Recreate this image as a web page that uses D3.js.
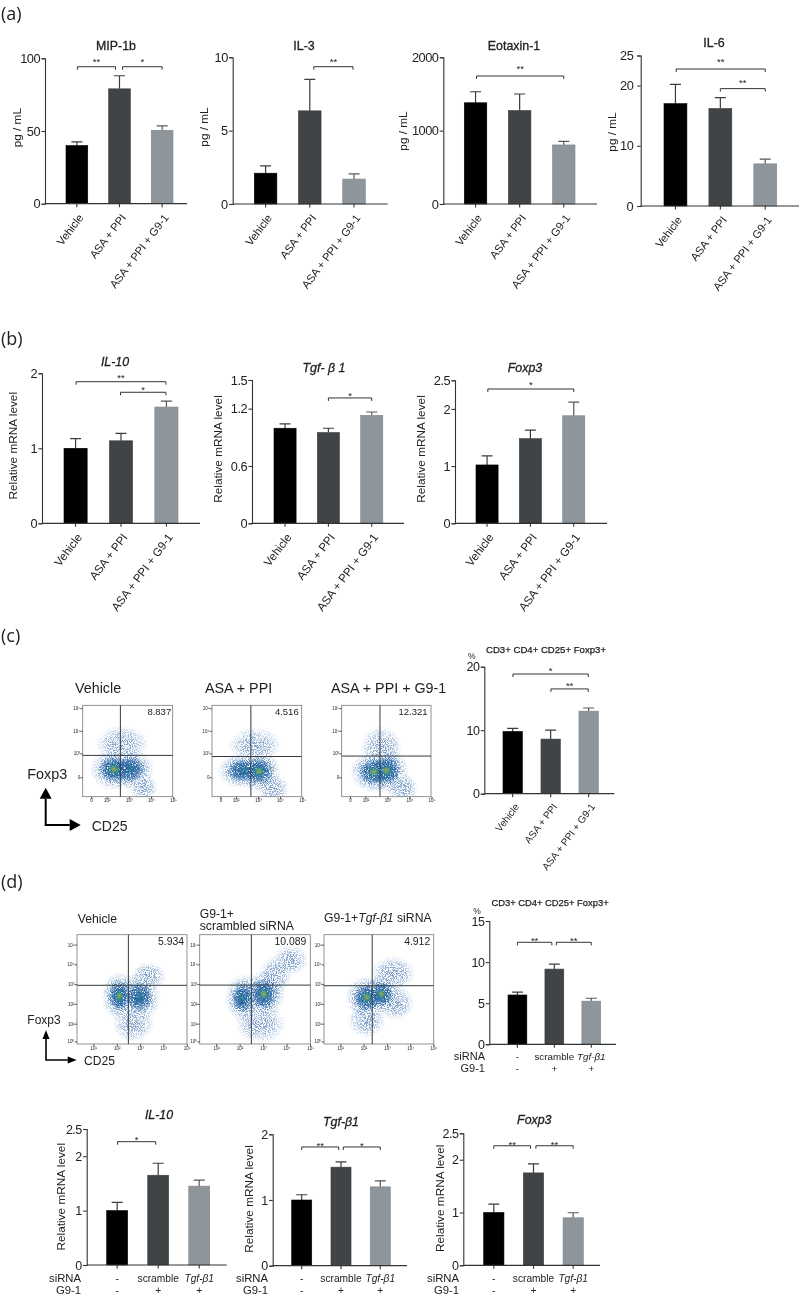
<!DOCTYPE html>
<html><head><meta charset="utf-8">
<script src="https://cdn.jsdelivr.net/npm/d3@7/dist/d3.min.js"></script>
<style>
html,body{margin:0;padding:0;background:#fff}
svg{display:block;filter:blur(0.35px)}
text{font-family:"Liberation Sans",Arial,sans-serif;fill:#222}
</style></head><body>
<script>
// ---------- data ----------
const drugCategories = ["Vehicle","ASA + PPI","ASA + PPI + G9-1"];
const sirnaRow = ["-","scramble","Tgf-β1"];
const g91Row = ["-","+","+"];

const mip1bMeans=[40,79,50.5],   mip1bTops=[42.5,88,53.5];
const il3Means=[2.1,6.35,1.7],   il3Tops=[2.6,8.5,2.05];
const eotaxinMeans=[1380,1275,805], eotaxinTops=[1530,1500,855];
const il6Means=[17,16.2,7],      il6Tops=[20.2,18,7.8];

const il10Means=[1,1.1,1.55],    il10Tops=[1.13,1.2,1.63];
const tgfMeans=[0.995,0.95,1.13],tgfTops=[1.04,0.995,1.165];
const foxp3Means=[1.02,1.48,1.88],foxp3Tops=[1.18,1.63,2.12];

const tregCMeans=[9.8,8.6,13],   tregCTops=[10.3,10,13.5];
const tregDMeans=[6,9.15,5.25],  tregDTops=[6.35,9.75,5.6];

const siIl10Means=[1,1.65,1.45], siIl10Tops=[1.15,1.87,1.56];
const siTgfMeans=[1,1.5,1.2],    siTgfTops=[1.08,1.58,1.29];
const siFoxMeans=[1,1.75,0.9],   siFoxTops=[1.16,1.92,0.995];

// flow-plot densities: [CD25 decade, Foxp3 decade, x spread, y spread, heat 0-2]
const flowCVehicle=[[2.68,3.44,.95,.62,0],[3.66,1.5,.5,.5,0],[3.06,2.3,.85,.72,1],[2.33,2.29,.85,.72,2]];
const flowCAsa=[[2.86,3.37,.95,.62,0],[3.69,1.44,.55,.55,0],[2.30,2.24,.9,.62,1],[3.05,2.21,.78,.72,2]];
const flowCG91=[[2.72,3.29,.75,.72,0],[3.7,1.44,.55,.55,0],[2.38,2.18,.85,.72,2],[2.95,2.24,.8,.78,2]];
const flowDVehicle=[[3.36,3.41,.6,.55,0],[2.71,1.01,.7,.75,0],[2.97,2.36,.72,.95,1],[2.11,2.41,.6,.95,2]];
const flowDScramble=[[4.17,4.22,.6,.6,0],[2.89,1.01,.85,.8,0],[3.53,3.46,.55,.75,0],[2.14,2.31,.6,.95,1],[3.03,2.5,.72,.95,2]];
const flowDTgf=[[3.27,3.54,.75,.7,0],[3.41,2.03,.6,.7,0],[2.13,1.18,.65,.7,0],[2.13,2.33,.72,.85,2],[2.77,2.5,.65,.78,2]];

// ---------- layout ----------
const W=800,H=1295,barColors=["#000000","#404446","#8e959b"],edgeColors=["#000","#3a3e40","#7f868c"];
const svg=d3.select("body").append("svg").attr("width",W).attr("height",H).attr("viewBox",`0 0 ${W} ${H}`);
svg.append("rect").attr("width",W).attr("height",H).attr("fill","#fff");

const defs=svg.append("defs");
function speckle(id,seed,gain,bias){
  const sp=defs.append("filter").attr("id",id).attr("x",0).attr("y",0).attr("width",1).attr("height",1)
    .attr("color-interpolation-filters","sRGB");
  sp.append("feTurbulence").attr("type","fractalNoise").attr("baseFrequency",0.95).attr("numOctaves",2).attr("seed",seed).attr("result","n");
  sp.append("feColorMatrix").attr("in","n").attr("type","matrix").attr("values",`0 0 0 0 0 0 0 0 0 0 0 0 0 0 0 ${gain} 0 0 0 ${bias}`).attr("result","m");
  sp.append("feComposite").attr("in","SourceGraphic").attr("in2","m").attr("operator","in");
}
speckle("speckle",4,6,-2.6);
speckle("speckle2",9,6,-2.0);
const heatStops=[
 [[0,"#3f6fb0",.75],[.55,"#4f7fbd",.55],[1,"#7da2cf",0]],
 [[0,"#27619f",.95],[.55,"#3a74b4",.7],[1,"#7da2cf",0]],
 [[0,"#1f5f9c",1],[.55,"#3a74b4",.75],[1,"#7da2cf",0]]];
heatStops.forEach((s,i)=>{
  const g=defs.append("radialGradient").attr("id","heat"+i);
  s.forEach(d=>g.append("stop").attr("offset",d[0]).attr("stop-color",d[1]).attr("stop-opacity",d[2]));
});
const dense=defs.append("radialGradient").attr("id","dense");
[[0,"#1e5f96",1],[.6,"#1f5f9f",.75],[1,"#2a68a8",0]].forEach(d=>dense.append("stop").attr("offset",d[0]).attr("stop-color",d[1]).attr("stop-opacity",d[2]));
const core=defs.append("radialGradient").attr("id","core");
[[0,"#a8a43f",.95],[.3,"#6aa265",.9],[.65,"#2d8f8c",.55],[1,"#2d8098",0]].forEach(d=>core.append("stop").attr("offset",d[0]).attr("stop-color",d[1]).attr("stop-opacity",d[2]));
const warm=defs.append("radialGradient").attr("id","warm");
[[0,"#2a8a90",.75],[.6,"#25789a",.4],[1,"#2d7098",0]].forEach(d=>warm.append("stop").attr("offset",d[0]).attr("stop-color",d[1]).attr("stop-opacity",d[2]));

function barPanel(p){
  const g=svg.append("g");
  const x=d3.scaleBand().domain(d3.range(3)).range([p.barL,p.barR]).paddingInner(p.inner||0.49).paddingOuter(0);
  const y=d3.scaleLinear().domain([0,p.max]).range([p.y0,p.yTop]);
  const c=i=>x(i)+x.bandwidth()/2;
  // error bars
  g.selectAll(".eb").data(p.means).join("path")
    .attr("d",(m,i)=>`M${c(i)},${y(m)}V${y(p.tops[i])}M${c(i)-5.5},${y(p.tops[i])}H${c(i)+5.5}`)
    .attr("fill","none").attr("stroke",(m,i)=>i==2?"#55595c":"#3a3d3f").attr("stroke-width",1.2);
  // bars
  g.selectAll(".bar").data(p.means).join("rect")
    .attr("x",(m,i)=>x(i)).attr("width",x.bandwidth())
    .attr("y",m=>y(m)).attr("height",m=>y(0)-y(m))
    .attr("fill",(m,i)=>barColors[i]).attr("stroke",(m,i)=>edgeColors[i]).attr("stroke-width",.6);
  // axes
  const ya=g.append("g").attr("transform",`translate(${p.ax},0)`)
    .call(d3.axisLeft(y).tickValues(p.ticks).tickSize(3.5).tickPadding(p.pad||1.5).tickFormat(String));
  ya.selectAll("path,line").attr("stroke","#333").attr("stroke-width",1.1);
  ya.selectAll("text").attr("font-size",p.tickFs||12.8).attr("font-family",null).attr("fill","#222").attr("letter-spacing",-0.55);
  g.append("line").attr("x1",p.ax).attr("x2",p.right).attr("y1",y(0)).attr("y2",y(0)).attr("stroke","#333").attr("stroke-width",1.2);
  const xa=g.append("g").attr("transform",`translate(0,${y(0)})`)
    .call(d3.axisBottom(x).tickSize(3.5).tickFormat(""));
  xa.select(".domain").remove();
  xa.selectAll("line").attr("stroke","#333").attr("stroke-width",1.1);
  // category labels
  if(p.rotated){
    g.selectAll(".cat").data(drugCategories).join("text")
      .attr("text-anchor","end").attr("font-size",p.catFs||11.1)
      .attr("transform",(d,i)=>`translate(${c(i)+p.rotDx},${y(0)+p.rotDy}) rotate(-53)`).text(d=>d);
  } else {
    [[sirnaRow,p.rowY1],[g91Row,p.rowY2]].forEach(([row,ry])=>{
      g.selectAll(null).data(row).join("text").attr("text-anchor","middle").attr("font-size",p.rowFs||9.8)
        .attr("x",(d,i)=>c(i)).attr("y",ry)
        .attr("font-style",d=>d.startsWith("Tgf")?"italic":null).text(d=>d);
    });
    [["siRNA",p.rowY1],["G9-1",p.rowY2]].forEach(([t,ry])=>g.append("text").attr("text-anchor","end").attr("font-size",p.rowHeadFs||11).attr("x",p.rowHeadX).attr("y",ry).text(t));
  }
  // brackets [from, to, level, stars, dxFrom, dxTo, starGap]
  (p.brackets||[]).forEach(b=>{
    const a=c(b[0])+(b[4]||0), e=c(b[1])+(b[5]||0), by=y(b[2]);
    g.append("path").attr("d",`M${a},${by+3}V${by}H${e}V${by+3}`).attr("fill","none").attr("stroke","#333").attr("stroke-width",1);
    g.append("text").attr("text-anchor","middle").attr("font-size",9.5).attr("x",(a+e)/2).attr("y",by-(b[6]||7)+5.5).text(b[3]);
  });
  // titles
  if(p.title){
    g.append("text").attr("text-anchor","middle").attr("x",p.tx).attr("y",p.ty).attr("font-size",p.titleFs||12.4)
      .attr("stroke","#222").attr("stroke-width",.3).attr("font-style",p.italic?"italic":null).text(p.title);
  }
  if(p.ylab) g.append("text").attr("text-anchor","middle").attr("font-size",p.ylabFs||11.8)
    .attr("transform",`translate(${p.lx+4},${p.ly}) rotate(-90)`).text(p.ylab);
}

const rot={rotated:1,rotDx:7,rotDy:14};
const siRows={tickFs:12.5,rowY1:1281.5,rowY2:1293.5,rowFs:10.2,rowHeadFs:11.3};
const panels=[
 {...rot,title:"MIP-1b",tx:116,ty:50,means:mip1bMeans,tops:mip1bTops,max:100,ticks:[0,50,100],ax:45,right:187,yTop:58.3,y0:203.7,barL:66,barR:173,ylab:"pg / mL",lx:17.3,ly:127.7,
  brackets:[[0,1,94.2,"**",.5,-4],[1,2,94.2,"*",3,0]]},
 {...rot,title:"IL-3",tx:304,ty:50,means:il3Means,tops:il3Tops,max:10,ticks:[0,5,10],ax:232.7,right:387.7,yTop:57.3,y0:204,barL:254.3,barR:365.3,ylab:"pg / mL",lx:204.3,ly:127,
  brackets:[[1,2,9.36,"**",4,-1]]},
 {...rot,title:"Eotaxin-1",tx:514,ty:50,means:eotaxinMeans,tops:eotaxinTops,max:2000,ticks:[0,1000,2000],ax:443.3,right:597,yTop:57.3,y0:204,barL:464.3,barR:575,ylab:"pg / mL",lx:402.7,ly:131,
  brackets:[[0,2,1745,"**",1,0,9.3]]},
 {...rot,title:"IL-6",tx:714,ty:47,means:il6Means,tops:il6Tops,max:25,ticks:[0,10,20,25],ax:640.7,right:799,yTop:55.5,y0:206,barL:664,barR:776.7,ylab:"pg / mL",lx:612,ly:132,pad:4,
  brackets:[[0,2,22.76,"**",.7,0,9.3],[1,2,19.5,"**",0,0,8]]},

 {...rot,title:"IL-10",italic:1,tx:115,ty:365.7,means:il10Means,tops:il10Tops,max:2,ticks:[0,1,2],ax:42,right:200,yTop:373.3,y0:523.3,barL:64,barR:178,catFs:11.6,ylab:"Relative mRNA level",lx:13,ly:445.7,
  brackets:[[0,2,1.888,"**",.5,-.5,6.7],[1,2,1.747,"*",-.5,-.5,4.7]]},
 {...rot,title:"Tgf- β 1",italic:1,tx:324,ty:372,means:tgfMeans,tops:tgfTops,max:1.5,ticks:[0,.6,1.2,1.5],ax:252,right:404,yTop:380,y0:523.3,barL:274,barR:382.8,catFs:11.6,ylab:"Relative mRNA level",lx:218,ly:449,
  brackets:[[1,2,1.312,"*",0,0,4.7]]},
 {...rot,title:"Foxp3",italic:1,tx:525,ty:372.3,means:foxp3Means,tops:foxp3Tops,max:2.5,ticks:[0,1,2,2.5],ax:455,right:607,yTop:380.3,y0:523.3,barL:476,barR:584.8,catFs:11.6,ylab:"Relative mRNA level",lx:420.8,ly:449,
  brackets:[[0,2,2.348,"*",.8,0,6.3]]},

 {means:tregCMeans,tops:tregCTops,max:20,ticks:[0,10,20],ax:484.3,right:614.3,yTop:666.7,y0:793.7,barL:503,barR:598.3,inner:.49,rotated:1,rotDx:7,rotDy:13,catFs:10,tickFs:12.5,
  brackets:[[0,2,18.85,"*",.3,-.4,5.3],[1,2,16.5,"**",.3,-.4,5]]},
 {means:tregDMeans,tops:tregDTops,max:15,ticks:[0,5,10,15],ax:489.3,right:616,yTop:921,y0:1044.3,barL:508,barR:600.7,inner:.49,tickFs:12.5,rowY1:1060,rowY2:1072,rowHeadX:485,
  brackets:[[0,1,12.41,"**",0,-2.5,4],[1,2,12.41,"**",2,0,4]]},

 {...siRows,title:"IL-10",italic:1,tx:159,ty:1119,means:siIl10Means,tops:siIl10Tops,max:2.5,ticks:[0,1,2,2.5],ax:86.7,right:226.7,yTop:1129,y0:1265,barL:106.7,barR:209.7,rowHeadX:81,ylab:"Relative mRNA level",lx:60.7,ly:1196.7,
  brackets:[[0,1,2.267,"*",.3,-2.5,4]]},
 {...siRows,title:"Tgf-β1",italic:1,tx:341,ty:1125.5,means:siTgfMeans,tops:siTgfTops,max:2,ticks:[0,1,2],ax:272.7,right:407,yTop:1134.3,y0:1265.7,barL:291.7,barR:390.3,rowHeadX:268,ylab:"Relative mRNA level",lx:249,ly:1199,
  brackets:[[0,1,1.807,"**",0,-2.3,3.5],[1,2,1.807,"*",2.3,0,3.5]]},
 {...siRows,title:"Foxp3",italic:1,tx:534.3,ty:1124,means:siFoxMeans,tops:siFoxTops,max:2.5,ticks:[0,1,2,2.5],ax:463.3,right:600,yTop:1133.3,y0:1265.3,barL:483.7,barR:583.3,rowHeadX:459,ylab:"Relative mRNA level",lx:440,ly:1198.3,
  brackets:[[0,1,2.264,"**",0,-3,3.5],[1,2,2.264,"**",2.4,0,3.5]]},
];
panels.forEach(barPanel);

// ---------- flow plots ----------
let clipN=0;
function flowPlot(p){
  const g=svg.append("g");
  const x=d3.scaleLinear().domain(p.xDom).range([p.l,p.r]);
  const y=d3.scaleLinear().domain(p.yDom).range([p.b,p.t]);
  const id="clip"+(clipN++);
  defs.append("clipPath").attr("id",id).append("rect").attr("x",p.l).attr("y",p.t).attr("width",p.r-p.l).attr("height",p.b-p.t);
  const rx=(d,k)=>(x(d[0]+d[2])-x(d[0]))*k, ry=(d,k)=>(y(d[1])-y(d[1]+d[3]))*k;
  const body=g.append("g").attr("clip-path",`url(#${id})`);
  const halo=body.append("g").attr("filter","url(#speckle)");
  halo.selectAll("ellipse").data(p.blobs).join("ellipse")
    .attr("cx",d=>x(d[0])).attr("cy",d=>y(d[1]))
    .attr("rx",d=>rx(d,1.3)).attr("ry",d=>ry(d,1.3))
    .attr("fill",d=>`url(#heat${d[4]})`);
  const mid=p.blobs.filter(d=>d[4]>0);
  body.append("g").attr("filter","url(#speckle2)").selectAll("ellipse").data(mid).join("ellipse")
    .attr("cx",d=>x(d[0])).attr("cy",d=>y(d[1]))
    .attr("rx",d=>rx(d,.8)).attr("ry",d=>ry(d,.8))
    .attr("fill","url(#dense)");
  body.append("g").selectAll("ellipse").data(mid).join("ellipse")
    .attr("cx",d=>x(d[0])).attr("cy",d=>y(d[1]))
    .attr("rx",d=>rx(d,d[4]==2?.36:.3)).attr("ry",d=>ry(d,d[4]==2?.36:.3))
    .attr("fill",d=>d[4]==2?"url(#core)":"url(#warm)");
  g.append("rect").attr("x",p.l).attr("y",p.t).attr("width",p.r-p.l).attr("height",p.b-p.t).attr("fill","none").attr("stroke","#777").attr("stroke-width",.8);
  // quadrant gates
  g.append("line").attr("x1",x(p.gx)).attr("x2",x(p.gx)).attr("y1",p.t).attr("y2",p.b).attr("stroke","#33393d").attr("stroke-width",1);
  g.append("line").attr("x1",p.l).attr("x2",p.r).attr("y1",y(p.gy)).attr("y2",y(p.gy)).attr("stroke","#33393d").attr("stroke-width",1);
  // axes
  const axb=d3.axisBottom(x).tickValues(p.xt).tickSize(2.5).tickPadding(0).tickFormat((d,i)=>p.xl[i]);
  const axl=d3.axisLeft(y).tickValues(p.yt).tickSize(2.5).tickPadding(0).tickFormat((d,i)=>p.yl[i]);
  [[axb,`translate(0,${p.b})`],[axl,`translate(${p.l},0)`]].forEach(([a,tr])=>{
    const s=g.append("g").attr("transform",tr).call(a);
    s.select(".domain").remove();
    s.selectAll("line").attr("stroke","#333").attr("stroke-width",.8);
    s.selectAll("text").attr("font-size",4.5).attr("font-family",null).attr("fill","#444");
  });
  // gate percentage
  g.append("text").attr("text-anchor","end").attr("x",p.r-p.valR).attr("y",p.t+p.valDy).attr("font-size",p.valFs).text(p.val);
}
const cAxis={xDom:[.92,4.98],yDom:[1.08,5.13],t:705.3,b:796.7,xt:[1.3,2,3,4,5],xl:["0","10²","10³","10⁴","10⁵"],yt:[1.94,3,4,5],yl:["0","10³","10⁴","10⁵"],valFs:9.5,valDy:9.5};
flowPlot({...cAxis,l:82.7,r:172.7,gx:2.62,gy:2.91,blobs:flowCVehicle,val:"8.837",valR:1.5});
flowPlot({...cAxis,l:212,r:301.7,gx:2.68,gy:2.86,blobs:flowCAsa,val:"4.516",valR:3});
flowPlot({...cAxis,l:341.7,r:431,gx:2.66,gy:2.88,blobs:flowCG91,val:"12.321",valR:3.5});
const dAxis={xDom:[.3,5.01],yDom:[-.03,5.5],t:934.7,b:1044,xt:[1,2,3,4,5],xl:["10¹","10²","10³","10⁴","10⁵"],yt:[.1,1,2,3,4,5],yl:["10⁰","10¹","10²","10³","10⁴","10⁵"],valFs:10.4,valDy:10};
flowPlot({...dAxis,l:77,r:187,gx:2.5,gy:2.94,blobs:flowDVehicle,val:"5.934",valR:3});
flowPlot({...dAxis,l:199.7,r:310.3,gx:2.5,gy:2.95,blobs:flowDScramble,val:"10.089",valR:4});
flowPlot({...dAxis,l:324,r:433.7,gx:2.37,gy:2.92,blobs:flowDTgf,val:"4.912",valR:3.5});

// ---------- free text ----------
function txt(t,x,y,fs,opt={}){
  const e=svg.append("text").attr("x",x).attr("y",y).attr("font-size",fs);
  if(opt.font) e.style("font-family",opt.font);
  if(opt.anchor) e.attr("text-anchor",opt.anchor);
  if(opt.bold) e.attr("stroke","#222").attr("stroke-width",.25);
  e.text(t); return e;
}
[["(a)",19.5],["(b)",345],["(c)",642],["(d)",888]].forEach(d=>txt(d[0],1,d[1],18,{font:'"Open Sans"'}));
txt("Vehicle",75,692.7,14.3); txt("ASA + PPI",205,692.7,14.3); txt("ASA + PPI + G9-1",331,692.7,14.3);
txt("Foxp3",27.3,779,14.4); txt("CD25",91.7,831,14);
txt("CD3+ CD4+ CD25+ Foxp3+",546,652.5,9.6,{anchor:"middle",bold:1});
txt("%",471.7,659,8.5,{anchor:"middle"});
txt("CD3+ CD4+ CD25+ Foxp3+",550,906,9.4,{anchor:"middle",bold:1});
txt("%",477,914,8.5,{anchor:"middle"});
txt("Vehicle",77.7,923.3,12.2); txt("G9-1+",199.7,918,12.2); txt("scrambled siRNA",199.7,930,12.2);
const t3=txt("",324,922.3,12.2);
t3.append("tspan").text("G9-1+"); t3.append("tspan").attr("font-style","italic").text("Tgf-β1"); t3.append("tspan").text(" siRNA");
txt("Foxp3",27.3,1024,12); txt("CD25",84,1065,12.1);
function axesArrow(x0,y0,yTip,xTip,sw,hw,hl){
  svg.append("path").attr("d",`M${x0},${yTip+hl}V${y0}H${xTip-hl}`).attr("fill","none").attr("stroke","#000").attr("stroke-width",sw);
  svg.append("path").attr("d",`M${x0},${yTip}l${hw},${hl}h${-2*hw}Z`).attr("fill","#000");
  svg.append("path").attr("d",`M${xTip},${y0}l${-hl},${hw}v${-2*hw}Z`).attr("fill","#000");
}
axesArrow(45.7,825,787.7,80.7,2,6,11);
axesArrow(46,1060,1030,76.7,1.6,3.5,9);
</script>
</body></html>
